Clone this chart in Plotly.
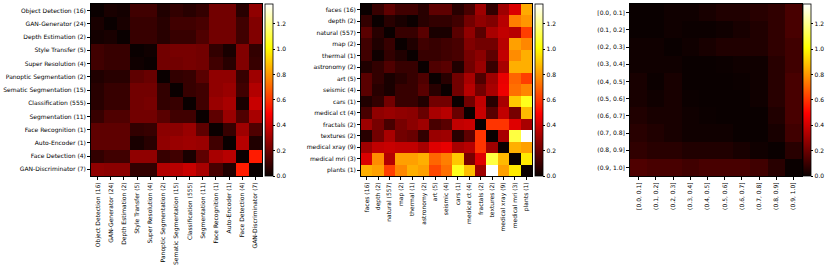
import plotly.graph_objects as go

# ---------------- data ----------------
tasks = ["Object Detection (16)", "GAN-Generator (24)", "Depth Estimation (2)", "Style Transfer (5)",
         "Super Resolution (4)", "Panoptic Segmentation (2)", "Sematic Segmentation (15)",
         "Classification (555)", "Segmentation (11)", "Face Recognition (1)", "Auto-Encoder (1)",
         "Face Detection (4)", "GAN-Discriminator (7)"]
tasks_values = [
    [0.00, 0.03, 0.02, 0.11, 0.11, 0.045, 0.08, 0.06, 0.085, 0.21, 0.21, 0.06, 0.27],
    [0.03, 0.00, 0.03, 0.09, 0.09, 0.06, 0.11, 0.11, 0.125, 0.21, 0.21, 0.11, 0.24],
    [0.02, 0.03, 0.00, 0.09, 0.09, 0.06, 0.09, 0.09, 0.14, 0.21, 0.21, 0.11, 0.24],
    [0.11, 0.09, 0.09, 0.00, 0.012, 0.21, 0.22, 0.22, 0.21, 0.08, 0.03, 0.24, 0.08],
    [0.11, 0.09, 0.09, 0.012, 0.00, 0.21, 0.21, 0.22, 0.21, 0.11, 0.06, 0.24, 0.09],
    [0.045, 0.06, 0.06, 0.17, 0.19, 0.00, 0.08, 0.09, 0.16, 0.27, 0.27, 0.09, 0.30],
    [0.06, 0.09, 0.09, 0.21, 0.21, 0.08, 0.00, 0.09, 0.11, 0.27, 0.29, 0.11, 0.34],
    [0.06, 0.09, 0.09, 0.21, 0.22, 0.08, 0.09, 0.00, 0.11, 0.29, 0.32, 0.03, 0.385],
    [0.09, 0.14, 0.14, 0.21, 0.21, 0.16, 0.11, 0.11, 0.00, 0.17, 0.29, 0.14, 0.32],
    [0.17, 0.17, 0.17, 0.08, 0.09, 0.26, 0.26, 0.29, 0.17, 0.00, 0.09, 0.30, 0.14],
    [0.17, 0.17, 0.17, 0.03, 0.06, 0.27, 0.29, 0.30, 0.29, 0.11, 0.00, 0.35, 0.045],
    [0.08, 0.11, 0.11, 0.27, 0.27, 0.09, 0.11, 0.03, 0.17, 0.32, 0.35, 0.00, 0.55],
    [0.27, 0.26, 0.26, 0.08, 0.08, 0.34, 0.35, 0.385, 0.32, 0.125, 0.045, 0.55, 0.00],
]

domains = ["faces (16)", "depth (2)", "natural (557)", "map (2)", "thermal (1)", "astronomy (2)",
           "art (5)", "seismic (4)", "cars (1)", "medical ct (4)", "fractals (2)", "textures (2)",
           "medical xray (9)", "medical mri (3)", "plants (1)"]
domains_values = [
    [0.00, 0.09, 0.17, 0.11, 0.11, 0.06, 0.17, 0.17, 0.06, 0.125, 0.30, 0.08, 0.30, 0.42, 0.84],
    [0.08, 0.00, 0.06, 0.03, 0.005, 0.06, 0.08, 0.08, 0.11, 0.21, 0.27, 0.24, 0.35, 0.75, 0.80],
    [0.16, 0.06, 0.00, 0.09, 0.09, 0.16, 0.03, 0.03, 0.16, 0.27, 0.16, 0.32, 0.37, 0.35, 0.62],
    [0.11, 0.045, 0.09, 0.00, 0.045, 0.11, 0.09, 0.11, 0.125, 0.24, 0.21, 0.21, 0.35, 0.82, 0.77],
    [0.11, 0.012, 0.08, 0.045, 0.00, 0.09, 0.09, 0.11, 0.125, 0.22, 0.26, 0.17, 0.37, 0.78, 0.85],
    [0.045, 0.08, 0.14, 0.09, 0.09, 0.00, 0.14, 0.16, 0.045, 0.21, 0.29, 0.09, 0.32, 0.85, 0.85],
    [0.16, 0.08, 0.03, 0.06, 0.09, 0.14, 0.00, 0.06, 0.21, 0.32, 0.14, 0.30, 0.45, 0.70, 0.62],
    [0.16, 0.06, 0.03, 0.09, 0.09, 0.16, 0.06, 0.00, 0.21, 0.35, 0.21, 0.32, 0.46, 0.72, 0.77],
    [0.045, 0.08, 0.21, 0.09, 0.09, 0.045, 0.21, 0.21, 0.00, 0.21, 0.37, 0.06, 0.32, 0.90, 1.05],
    [0.125, 0.27, 0.29, 0.27, 0.26, 0.19, 0.32, 0.35, 0.19, 0.00, 0.385, 0.16, 0.37, 0.22, 0.87],
    [0.30, 0.22, 0.125, 0.22, 0.26, 0.30, 0.125, 0.16, 0.37, 0.385, 0.00, 0.60, 0.60, 0.43, 0.32],
    [0.06, 0.21, 0.32, 0.21, 0.19, 0.08, 0.29, 0.30, 0.06, 0.17, 0.60, 0.00, 0.32, 1.10, 1.36],
    [0.30, 0.37, 0.385, 0.37, 0.37, 0.32, 0.43, 0.45, 0.32, 0.35, 0.60, 0.30, 0.00, 0.85, 0.82],
    [0.42, 0.78, 0.34, 0.82, 0.82, 0.85, 0.70, 0.75, 0.90, 0.22, 0.43, 1.10, 0.87, 0.00, 0.97],
    [0.85, 0.82, 0.62, 0.77, 0.85, 0.82, 0.64, 0.72, 1.05, 0.88, 0.30, 1.36, 0.82, 0.97, 0.00],
]

bins = ["[0.0, 0.1]", "(0.1, 0.2]", "(0.2, 0.3]", "(0.3, 0.4]", "(0.4, 0.5]",
        "(0.5, 0.6]", "(0.6, 0.7]", "(0.7, 0.8]", "(0.8, 0.9]", "(0.9, 1.0]"]
bins_values = [
    [0.00, 0.00, 0.012, 0.012, 0.028, 0.045, 0.045, 0.06, 0.077, 0.125],
    [0.00, 0.00, 0.012, 0.004, 0.004, 0.012, 0.028, 0.045, 0.077, 0.125],
    [0.012, 0.012, 0.00, 0.012, 0.028, 0.045, 0.045, 0.045, 0.077, 0.11],
    [0.012, 0.012, 0.012, 0.00, 0.00, 0.004, 0.012, 0.012, 0.06, 0.11],
    [0.028, 0.004, 0.028, 0.00, 0.00, 0.00, 0.004, 0.012, 0.06, 0.125],
    [0.028, 0.012, 0.028, 0.004, 0.00, 0.00, 0.00, 0.012, 0.06, 0.125],
    [0.045, 0.028, 0.028, 0.012, 0.004, 0.00, 0.00, 0.00, 0.045, 0.125],
    [0.06, 0.045, 0.028, 0.012, 0.012, 0.012, 0.00, 0.00, 0.028, 0.11],
    [0.077, 0.06, 0.06, 0.045, 0.045, 0.045, 0.028, 0.012, 0.00, 0.06],
    [0.14, 0.125, 0.125, 0.11, 0.125, 0.125, 0.125, 0.11, 0.06, 0.00],
]

ZMAX = 1.357
hot = [[0.0, "rgb(10,0,0)"], [0.365, "rgb(255,0,0)"], [0.746, "rgb(255,255,0)"], [1.0, "rgb(255,255,255)"]]

W, H = 830, 267
top_px, bot_px = 4, 176
y0 = 1 - bot_px / H
y1 = 1 - top_px / H
panels = [
    (tasks, tasks_values, 91, 262, 265),
    (domains, domains_values, 361, 532, 535),
    (bins, bins_values, 630, 802, 803),
]

FONT = dict(family="DejaVu Sans", size=6.0, color="black")

fig = go.Figure()
layout = dict(width=W, height=H, margin=dict(l=0, r=0, t=0, b=0, autoexpand=False),
              paper_bgcolor="white", plot_bgcolor="white", font=FONT, showlegend=False)

for i, (labels, vals, xl, xr, cbx) in enumerate(panels):
    n = i + 1
    xa = "x" if n == 1 else f"x{n}"
    ya = "y" if n == 1 else f"y{n}"
    fig.add_trace(go.Heatmap(
        z=vals, x=labels, y=labels, xaxis=xa, yaxis=ya,
        colorscale=hot, zmin=0, zmax=ZMAX, zsmooth=False,
        colorbar=dict(x=cbx / W, xanchor="left", xpad=0, ypad=0,
                      y=y0, yanchor="bottom", len=y1 - y0, lenmode="fraction",
                      thickness=8, thicknessmode="pixels",
                      outlinewidth=0.8, outlinecolor="black",
                      tickmode="array", tickvals=[0, 0.2, 0.4, 0.6, 0.8, 1.0, 1.2],
                      ticktext=["0.0", "0.2", "0.4", "0.6", "0.8", "1.0", "1.2"],
                      ticks="outside", ticklen=2.5, tickcolor="black",
                      tickfont=FONT),
    ))
    xkey = "xaxis" if n == 1 else f"xaxis{n}"
    ykey = "yaxis" if n == 1 else f"yaxis{n}"
    layout[xkey] = dict(domain=[xl / W, xr / W], anchor=ya, type="category", automargin=False,
                        tickangle=-90, ticks="outside", ticklen=3, tickcolor="black",
                        showline=True, mirror=True, linecolor="black", linewidth=0.8,
                        showgrid=False, zeroline=False, tickfont=FONT, fixedrange=True)
    layout[ykey] = dict(domain=[y0, y1], anchor=xa, type="category", autorange="reversed",
                        automargin=False,
                        ticks="outside", ticklen=3, tickcolor="black",
                        showline=True, mirror=True, linecolor="black", linewidth=0.8,
                        showgrid=False, zeroline=False, tickfont=FONT, fixedrange=True)

fig.update_layout(**layout)
fig.write_html("out.html", config={"displayModeBar": False},
               post_script="document.body.style.margin='0';document.body.style.overflow='hidden';")
